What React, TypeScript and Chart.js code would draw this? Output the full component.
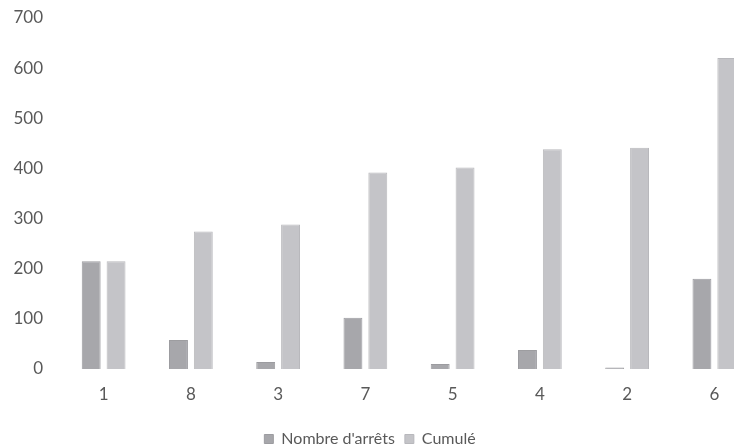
import React, { useEffect, useRef } from "react";
import { Chart, registerables } from "chart.js";

Chart.register(...registerables);

const categories = ["1", "8", "3", "7", "5", "4", "2", "6"];
const nombreArrets = [215, 58, 14, 102, 10, 38, 3, 180];
const cumule = [215, 274, 288, 392, 402, 438, 441, 620];
const yTicks = [0, 100, 200, 300, 400, 500, 600, 700];

const FONT = "Lato, 'Open Sans', sans-serif";
const TEXT = "#595959";

const shiftLegend = {
  id: "shiftLegend",
  afterLayout(chart: any) {
    const lg = chart.legend;
    if (lg) {
      lg.left = 0;
      lg.right = 740;
      lg.width = 740;
      lg.top += 10;
      lg.bottom += 10;
    }
  },
};

export default function App() {
  const ref = useRef<HTMLCanvasElement | null>(null);
  useEffect(() => {
    if (!ref.current) return;
    const chart = new Chart(ref.current, {
      type: "bar",
      data: {
        labels: categories,
        datasets: [
          {
            label: "Nombre d'arrêts",
            data: nombreArrets,
            backgroundColor: "#a7a7ab",
            borderColor: "#9c9ca0",
            borderWidth: 1,
            categoryPercentage: 0.57,
            barPercentage: 0.76,
          },
          {
            label: "Cumulé",
            data: cumule,
            backgroundColor: "#c4c4c8",
            borderColor: "#b8b8bc",
            borderWidth: 1,
            categoryPercentage: 0.57,
            barPercentage: 0.76,
          },
        ],
      },
      options: {
        responsive: false,
        animation: false,
        devicePixelRatio: 1,
        layout: { padding: { left: 12, right: 12, top: 0, bottom: 0 } },
        scales: {
          x: {
            grid: { display: false, drawTicks: false },
            border: { display: false },
            ticks: { color: TEXT, font: { family: FONT, size: 17 }, padding: 15 },
            afterFit(axis: any) {
              axis.height = 42;
            },
          },
          y: {
            min: 0,
            max: 700,
            grid: { display: false, drawTicks: false },
            border: { display: false },
            afterBuildTicks(axis: any) {
              axis.ticks = yTicks.map((v) => ({ value: v }));
            },
            afterFit(axis: any) {
              axis.width = 48;
              axis.paddingTop = 18;
              axis.paddingBottom = 0;
            },
            ticks: { color: TEXT, font: { family: FONT, size: 17 }, padding: 17 },
          },
        },
        plugins: {
          legend: {
            position: "bottom",
            labels: {
              color: TEXT,
              font: { family: FONT, size: 16 },
              boxWidth: 9,
              boxHeight: 9,
              padding: 10,
            },
          },
          tooltip: { enabled: false },
        },
      },
      plugins: [shiftLegend],
    });
    return () => chart.destroy();
  }, []);
  return (
    <div
      style={{
        position: "fixed",
        left: 0,
        top: 0,
        width: 734,
        height: 447,
        overflow: "hidden",
        background: "#fff",
      }}
    >
      <canvas ref={ref} width={770} height={447} style={{ display: "block" }} />
    </div>
  );
}
